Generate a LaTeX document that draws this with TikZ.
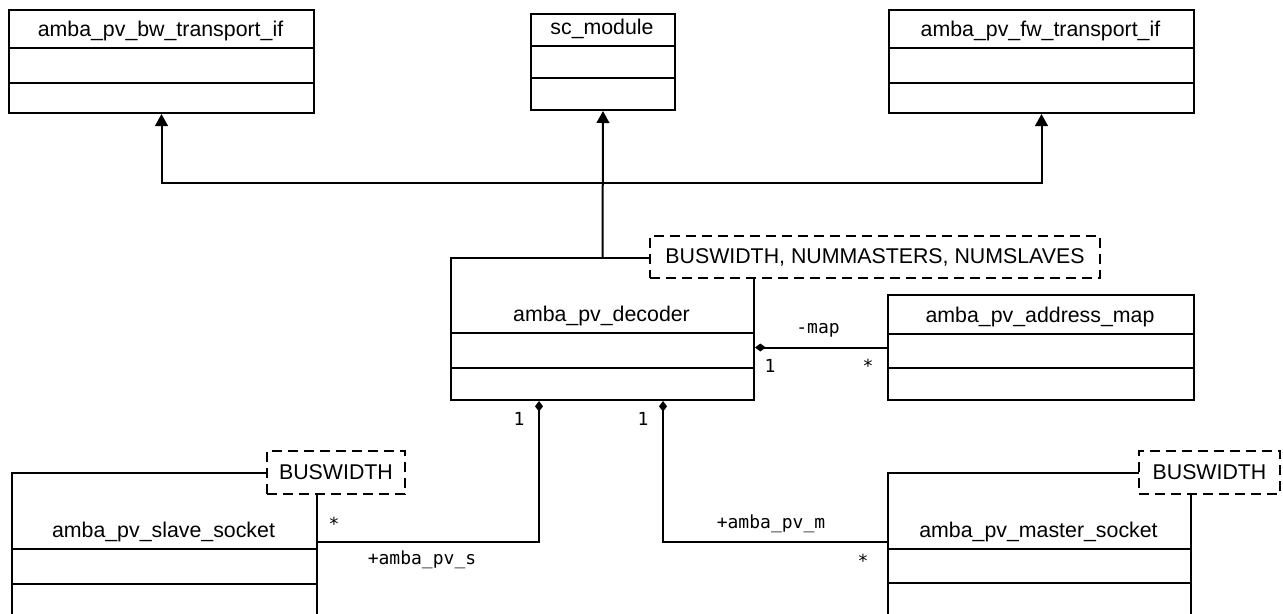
\documentclass[tikz,border=0pt]{standalone}
\usepackage{fontspec}
\setmainfont{Liberation Sans}
\newfontfamily\rolefont{DejaVu Sans Mono}
\usetikzlibrary{arrows.meta, calc, positioning}

\begin{document}
\begin{tikzpicture}[
    % one unit = one pixel of the sheet, y grows downward
    x=0.75pt,
    y=-0.75pt,
    line width=1.5pt,
    classbox/.style={draw, anchor=north west, inner sep=0pt},
    classname/.style={font=\fontsize{16}{19}\selectfont, inner sep=0pt},
    tmplbox/.style={draw, fill=white, anchor=north west, inner sep=0pt,
        dash pattern=on 7.5pt off 4.5pt, font=\fontsize{16}{19}\selectfont},
    rolelabel/.style={font=\rolefont\fontsize{13.5}{16}\selectfont, inner sep=0pt},
    inherit/.style={-{Triangle[length=9pt, width=9.5pt]}},
    compose/.style={-{Diamond[length=8pt, width=6pt]}}
]
    \useasboundingbox (0,0) rectangle (1283,614);
    \clip (0,0) rectangle (1283,614);

    % --- Classes: name / corner / size / compartment lines / title ---
    \foreach \nm/\x/\y/\w/\h/\da/\db/\txt in {
        bw/8/9/305/103/48/83/amba\_pv\_bw\_transport\_if,
        sc/530/13/144/96/46/78/sc\_module,
        fw/888/9/305/103/48/83/amba\_pv\_fw\_transport\_if,
        dec/450/257/303/142/333/368/amba\_pv\_decoder,
        addr/887/294/306/105/334/368/amba\_pv\_address\_map,
        slave/11/472/305/160/549/584/amba\_pv\_slave\_socket,
        master/887/472/303/160/549/583/amba\_pv\_master\_socket} {
        \node[classbox, minimum width=\w*0.75pt, minimum height=\h*0.75pt] (\nm) at (\x,\y) {};
        \draw (\x,\da) -- ++(\w,0);
        \draw (\x,\db) -- ++(\w,0);
        \node[classname] (\nm-name) at (\x+\w/2, \da-17) {\txt};
    }

    % --- Template parameters ---
    \node[tmplbox, minimum width=450*0.75pt, minimum height=42*0.75pt] (decTmpl) at (649,235) {BUSWIDTH, NUMMASTERS, NUMSLAVES};
    \node[tmplbox, minimum width=138*0.75pt, minimum height=43*0.75pt] (slaveTmpl) at (266,450) {BUSWIDTH};
    \node[tmplbox, minimum width=141*0.75pt, minimum height=43*0.75pt] (masterTmpl) at (1138,450) {BUSWIDTH};

    % --- Generalisation ---
    \coordinate (junc) at (602,183);
    \draw[inherit] (dec.north) -- (sc.south);
    \draw[inherit] (junc) -| (bw.south);
    \draw[inherit] (junc) -| (fw.south);

    % --- Composition ---
    \coordinate (decS) at ($(dec.south west)+(89,0)$);
    \coordinate (decM) at ($(dec.south west)+(213,0)$);
    \coordinate (slaveEnd) at ($(slave.north east)+(0,70)$);
    \coordinate (masterEnd) at ($(master.north west)+(0,70)$);
    \draw[compose] (addr.west) -- (addr.west -| dec.east);
    \draw[compose] (slaveEnd) -| (decS);
    \draw[compose] (masterEnd) -| (decM);

    % --- Roles and multiplicities ---
    \node[rolelabel] (mapRole) at (818,330) {-map};
    \node[rolelabel] (mapDecMult) at (770,366) {1};
    \node[rolelabel] (mapAddrMult) at (868,366) {*};
    \node[rolelabel] (sDecMult) at (519,419) {1};
    \node[rolelabel] (sSockMult) at (334,524) {*};
    \node[rolelabel] (sRole) at (422,560) {+amba\_pv\_s};
    \node[rolelabel] (mDecMult) at (643,419) {1};
    \node[rolelabel] (mRole) at (771,524) {+amba\_pv\_m};
    \node[rolelabel] (mSockMult) at (863,561) {*};

\end{tikzpicture}
\end{document}
